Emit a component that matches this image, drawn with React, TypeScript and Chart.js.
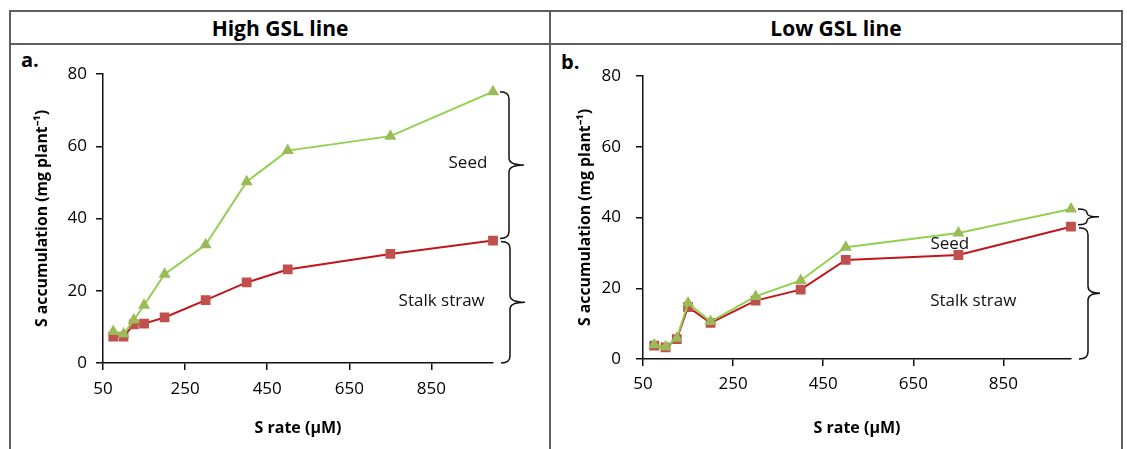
import React, { useEffect, useRef } from "react";
import { Chart, registerables } from "chart.js";

Chart.register(...registerables);

// ---- data ----
const sRates = [75, 100, 125, 150, 200, 300, 400, 500, 750, 1000];
const highStalk = [7.3, 7.3, 10.7, 10.9, 12.6, 17.4, 22.3, 25.9, 30.2, 33.9];
const highTotal = [8.7, 8.0, 11.9, 16.0, 24.6, 32.7, 50.2, 58.8, 62.8, 75.1];
const lowStalk = [3.8, 3.3, 5.6, 14.7, 10.2, 16.5, 19.6, 28.0, 29.4, 37.4];
const lowTotal = [4.0, 3.4, 5.9, 15.8, 10.6, 17.7, 22.2, 31.6, 35.6, 42.4];
const xTicks = [50, 250, 450, 650, 850];
const yTicks = [0, 20, 40, 60, 80];
const panelTitles = ["High GSL line", "Low GSL line"];
const panelLetters = ["a.", "b."];
const xTitle = "S rate (\u00b5M)";
const yTitle = "S accumulation (mg plant\u207b\u00b9)";
const highLabels = [
  { text: "Seed", x: 939, y: 55.4 },
  { text: "Stalk straw", x: 875, y: 17 },
];
const lowLabels = [
  { text: "Seed", x: 731, y: 32.6 },
  { text: "Stalk straw", x: 783, y: 16.3 },
];

const FONT = '"Open Sans", "Liberation Sans", sans-serif';

function drawBrace(ctx: CanvasRenderingContext2D, x: number, y1: number, y2: number, tip: number) {
  const h = y2 - y1;
  const r = Math.min(7, h / 4);
  const ym = (y1 + y2) / 2;
  ctx.beginPath();
  ctx.moveTo(x - 9, y1);
  ctx.quadraticCurveTo(x, y1, x, y1 + r);
  ctx.lineTo(x, ym - r);
  ctx.quadraticCurveTo(x, ym, x + tip, ym);
  ctx.quadraticCurveTo(x, ym, x, ym + r);
  ctx.lineTo(x, y2 - r);
  ctx.quadraticCurveTo(x, y2, x - 9, y2);
  ctx.stroke();
}

type PanelProps = {
  stalk: number[];
  total: number[];
  labels: { text: string; x: number; y: number }[];
  width: number;
  height: number;
  padTop: number;
  padRight: number;
  xHeight: number;
  yWidth: number;
  yTitlePad: number;
  yTickPad: number;
  xTickPad: number;
  braceTip: number;
};

function Panel(p: PanelProps) {
  const ref = useRef<HTMLCanvasElement | null>(null);
  useEffect(() => {
    if (!ref.current) return;
    const tickFont = { family: FONT, size: 17 };
    const titleFont = { family: FONT, size: 15.8, weight: "bold" as const };
    const plugin = {
      id: "braces",
      afterDatasetsDraw(chart: any) {
        const { ctx } = chart;
        const x = chart.scales.x;
        const y = chart.scales.y;
        const n = p.stalk.length;
        const xl = x.getPixelForValue(sRates[n - 1]) + 16;
        const yT = y.getPixelForValue(p.total[n - 1]);
        const yM = y.getPixelForValue(p.stalk[n - 1]);
        const y0 = y.getPixelForValue(0);
        ctx.save();
        ctx.strokeStyle = "#111";
        ctx.lineWidth = 1.5;
        drawBrace(ctx, xl, yT, yM - 2, p.braceTip);
        drawBrace(ctx, xl + 1, yM + 1, y0, p.braceTip);
        ctx.fillStyle = "#111";
        ctx.font = `17px ${FONT}`;
        ctx.textAlign = "center";
        ctx.textBaseline = "middle";
        p.labels.forEach((l) => {
          ctx.fillText(l.text, x.getPixelForValue(l.x), y.getPixelForValue(l.y));
        });
        ctx.restore();
      },
    };
    const chart = new Chart(ref.current, {
      type: "line",
      data: {
        datasets: [
          {
            label: "Seed",
            data: sRates.map((v, i) => ({ x: v, y: p.total[i] })),
            borderColor: "#92D050",
            backgroundColor: "#9BBB59",
            pointBackgroundColor: "#9BBB59",
            pointBorderColor: "#9BBB59",
            pointStyle: "triangle",
            pointRadius: 5,
            borderWidth: 2,
            tension: 0,
            clip: false as any,
          },
          {
            label: "Stalk straw",
            data: sRates.map((v, i) => ({ x: v, y: p.stalk[i] })),
            borderColor: "#C0161B",
            backgroundColor: "#C0504D",
            pointBackgroundColor: "#C0504D",
            pointBorderColor: "#C0504D",
            pointStyle: "rect",
            pointRadius: 5.5,
            borderWidth: 2,
            tension: 0,
            clip: false as any,
          },
        ],
      },
      options: {
        responsive: false,
        maintainAspectRatio: false,
        animation: false,
        devicePixelRatio: 1,
        layout: { padding: { left: 0, top: p.padTop, right: p.padRight, bottom: 0 } },
        plugins: { legend: { display: false }, tooltip: { enabled: false } },
        scales: {
          x: {
            type: "linear",
            min: 50,
            max: 1000,
            afterBuildTicks: (s: any) => {
              s.ticks = xTicks.map((v) => ({ value: v }));
            },
            afterFit: (s: any) => {
              s.height = p.xHeight;
            },
            ticks: { font: tickFont, color: "#000", padding: p.xTickPad, maxRotation: 0, autoSkip: false },
            grid: { drawOnChartArea: false, drawTicks: true, tickLength: 7, color: "#111", lineWidth: 1.5 },
            border: { color: "#111", width: 1.5 },
            title: {
              display: true,
              text: xTitle,
              font: { family: FONT, size: 16, weight: "bold" },
              color: "#000",
              padding: { top: 0, bottom: 11 },
            },
          },
          y: {
            min: 0,
            max: 80,
            afterBuildTicks: (s: any) => {
              s.ticks = yTicks.map((v) => ({ value: v }));
            },
            afterFit: (s: any) => {
              s.width = p.yWidth;
            },
            ticks: { font: tickFont, color: "#000", padding: p.yTickPad },
            grid: { drawOnChartArea: false, drawTicks: true, tickLength: 7, color: "#111", lineWidth: 1.5 },
            border: { color: "#111", width: 1.5 },
            title: {
              display: true,
              text: yTitle,
              font: titleFont,
              color: "#000",
              padding: { top: p.yTitlePad, bottom: 0 },
            },
          },
        },
      },
      plugins: [plugin],
    } as any);
    return () => chart.destroy();
  }, []);
  return <canvas ref={ref} width={p.width} height={p.height} style={{ display: "block", width: p.width, height: p.height }} />;
}

export default function App() {
  const lineColor = "#5e5e5e";
  const abs = (l: number, t: number, w: number, h: number): React.CSSProperties => ({
    position: "absolute",
    left: l,
    top: t,
    width: w,
    height: h,
  });
  return (
    <div style={{ position: "absolute", left: 0, top: 0, width: 1127, height: 449, background: "#fff", overflow: "hidden", fontFamily: FONT }}>
      {/* table borders */}
      <div style={{ ...abs(10, 10, 1113, 2), background: lineColor }} />
      <div style={{ ...abs(10, 43, 1113, 2), background: lineColor }} />
      <div style={{ ...abs(9, 10, 2, 450), background: lineColor }} />
      <div style={{ ...abs(549, 10, 2, 450), background: lineColor }} />
      <div style={{ ...abs(1121, 10, 2, 450), background: lineColor }} />
      {/* headers */}
      <div style={{ ...abs(11, 12, 538, 31), display: "flex", alignItems: "center", justifyContent: "center", fontWeight: 700, fontSize: 21, color: "#000" }}>
        {panelTitles[0]}
      </div>
      <div style={{ ...abs(551, 12, 570, 31), display: "flex", alignItems: "center", justifyContent: "center", fontWeight: 700, fontSize: 21, color: "#000" }}>
        {panelTitles[1]}
      </div>
      <div style={{ ...abs(21, 47, 40, 26), fontWeight: 700, fontSize: 20, lineHeight: "26px", color: "#000" }}>{panelLetters[0]}</div>
      <div style={{ ...abs(561, 49, 40, 26), fontWeight: 700, fontSize: 20, lineHeight: "26px", color: "#000" }}>{panelLetters[1]}</div>
      {/* charts */}
      <div style={abs(11, 45, 538, 404)}>
        <Panel
          stalk={highStalk}
          total={highTotal}
          labels={highLabels}
          width={538}
          height={404}
          padTop={29}
          padRight={56}
          xHeight={86}
          yWidth={92}
          yTitlePad={22}
          yTickPad={9}
          xTickPad={9}
          braceTip={15}
        />
      </div>
      <div style={abs(551, 45, 570, 404)}>
        <Panel
          stalk={lowStalk}
          total={lowTotal}
          labels={lowLabels}
          width={570}
          height={404}
          padTop={31}
          padRight={50}
          xHeight={90}
          yWidth={92}
          yTitlePad={25}
          yTickPad={15}
          xTickPad={8}
          braceTip={12}
        />
      </div>
    </div>
  );
}
